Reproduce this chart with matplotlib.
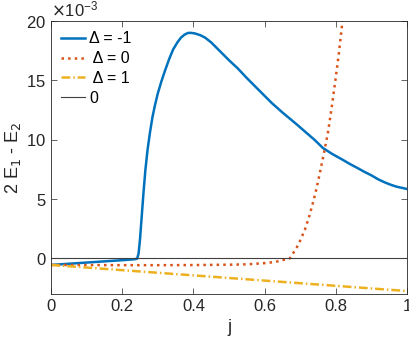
import matplotlib.pyplot as plt
from matplotlib.ticker import ScalarFormatter

plt.rcParams['font.family'] = ['Liberation Sans', 'DejaVu Sans']

# values (y in units of 1e-3)
j_m1 = [0, 0.05, 0.1, 0.15, 0.2, 0.235, 0.242, 0.246, 0.25, 0.255, 0.26, 0.265,
        0.271, 0.278, 0.285, 0.292, 0.3, 0.31, 0.32, 0.332, 0.343, 0.355, 0.365,
        0.375, 0.385, 0.395, 0.405, 0.42, 0.433, 0.45, 0.48, 0.5, 0.525, 0.55,
        0.57, 0.6, 0.62, 0.65, 0.67, 0.69, 0.713, 0.74, 0.764, 0.79, 0.82, 0.84,
        0.862, 0.88, 0.9, 0.92, 0.938, 0.955, 0.97, 0.985, 1.0]
y_m1 = [-0.55, -0.45, -0.35, -0.25, -0.15, -0.07, -0.02, 0.4, 1.6, 3.6, 5.6, 7.4,
        9.1, 10.6, 11.9, 12.9, 13.9, 14.9, 15.8, 16.8, 17.6, 18.2, 18.6,
        18.85, 19.0, 19.0, 18.95, 18.8, 18.6, 18.2, 17.3, 16.7, 16.0, 15.2,
        14.6, 13.7, 13.1, 12.3, 11.8, 11.3, 10.7, 10.0, 9.3, 8.8, 8.3, 7.95,
        7.6, 7.3, 7.0, 6.65, 6.4, 6.2, 6.05, 5.95, 5.85]

j_0 = [0, 0.1, 0.2, 0.3, 0.4, 0.5, 0.55, 0.6, 0.63, 0.65, 0.671, 0.69, 0.7, 0.713,
       0.725, 0.736, 0.746, 0.756, 0.767, 0.778, 0.788, 0.798, 0.808, 0.817, 0.825]
y_0 = [-0.55, -0.56, -0.57, -0.57, -0.56, -0.53, -0.5, -0.4, -0.3, -0.15, 0.0,
       0.9, 1.5, 2.4, 3.5, 4.7, 5.9, 7.3, 8.9, 10.6, 12.6, 14.8, 17.1, 19.5, 21.5]

j_1 = [0, 1]
y_1 = [-0.55, -2.75]

labels = ['\u0394 = -1', ' \u0394 = 0', ' \u0394 = 1', '0']

fig = plt.figure(figsize=(4.09, 3.41), dpi=100)
ax = fig.add_axes([0.1247, 0.1378, 0.8703, 0.8005])

s = 1e-3
ax.plot(j_m1, [v * s for v in y_m1], color='#0072BD', lw=1.8, label=labels[0])
ax.plot(j_0, [v * s for v in y_0], color='#D95319', lw=1.8, ls=':', label=labels[1])
ax.plot(j_1, [v * s for v in y_1], color='#EDB120', lw=1.8,
        dashes=(3.5, 1.2, 0.6, 1.2), label=labels[2])
ax.plot([0, 1], [0, 0], color='#404040', lw=0.8, label=labels[3])

ax.set_xlim(0, 1)
ax.set_ylim(-3e-3, 20e-3)
ax.set_xticks([0, 0.2, 0.4, 0.6, 0.8, 1])
ax.set_xticklabels(['0', '0.2', '0.4', '0.6', '0.8', '1'])
ax.set_yticks([0, 5e-3, 10e-3, 15e-3, 20e-3])
fmt = ScalarFormatter(useMathText=True)
fmt.set_powerlimits((-3, -3))
ax.yaxis.set_major_formatter(fmt)
ax.yaxis.get_offset_text().set_fontsize(12)
ax.yaxis.get_offset_text().set_color('#262626')

ax.tick_params(direction='in', top=True, right=True, labelsize=12,
               colors='#262626', length=4, width=0.5)
for sp in ax.spines.values():
    sp.set_color('#262626')
    sp.set_linewidth(0.6)

ax.set_xlabel('j', fontsize=13, color='#262626')
ax.set_ylabel('2 E$_1$ - E$_2$', fontsize=13, color='#262626', labelpad=2)

ax.legend(loc='upper left', frameon=False, fontsize=11.5, handlelength=1.5,
          handletextpad=0.25, borderaxespad=0.25, labelspacing=0.3)

fig.savefig('out.png', dpi=100)
